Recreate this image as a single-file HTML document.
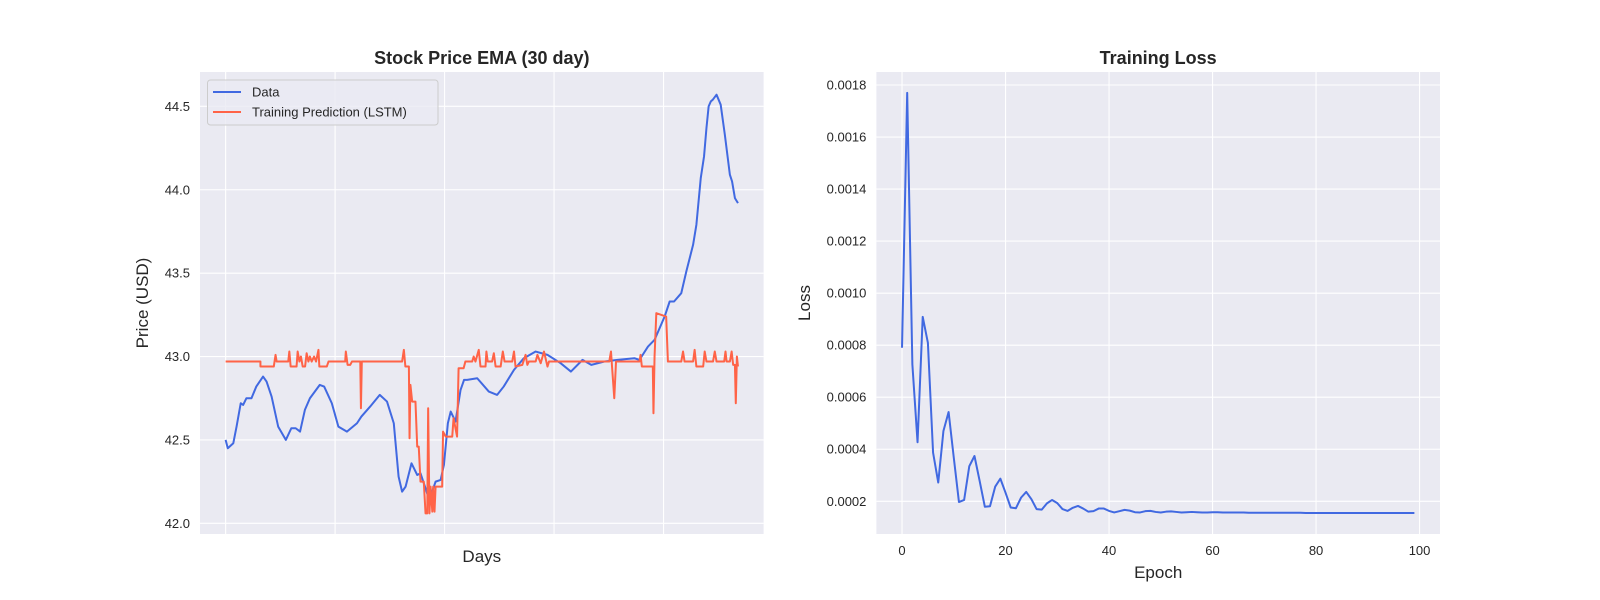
<!DOCTYPE html>
<html><head><meta charset="utf-8"><style>
html,body{margin:0;padding:0;background:#fff;}
svg{display:block;font-family:"Liberation Sans","DejaVu Sans",sans-serif;}
</style></head><body>
<svg id="fig" width="1600" height="600" viewBox="0 0 1600 600" xmlns="http://www.w3.org/2000/svg">
<g id="left"></g>
<g id="right"></g>
</svg>
<script>
const priceDays=[0,1,3.5,5,6.9,8,9.5,11.8,14,17.1,18.7,21,24,27.5,30,32,34,36.2,38.5,43,45,48.5,51.5,55.4,60,62,66,70.4,73.7,76.8,79,80.6,82.2,84.9,87.5,89,91.3,93,95.9,98.2,99.7,101.5,102.8,105,107.3,108.9,110.3,114.9,120.2,124,127,131.7,136.2,141.6,147,153,157.7,163,167,173,179,186.7,189,192.9,195.9,200.5,202.8,204.8,208.1,210.4,213.5,215,217,218.5,219.6,220.6,221.6,222.5,224.2,226.1,228,230.3,231.3,232.6,234];
const priceVals=[42.50,42.45,42.48,42.58,42.72,42.71,42.75,42.75,42.82,42.88,42.85,42.76,42.58,42.50,42.57,42.57,42.55,42.68,42.75,42.83,42.82,42.72,42.58,42.55,42.60,42.64,42.70,42.77,42.73,42.60,42.28,42.19,42.22,42.36,42.29,42.30,42.21,42.14,42.25,42.26,42.35,42.60,42.67,42.61,42.80,42.86,42.86,42.87,42.79,42.77,42.82,42.92,42.99,43.03,43.01,42.96,42.91,42.98,42.95,42.97,42.98,42.99,42.98,43.06,43.10,43.24,43.33,43.33,43.38,43.51,43.67,43.79,44.07,44.20,44.37,44.50,44.53,44.54,44.57,44.51,44.33,44.09,44.05,43.95,43.92];
const predDays=[0,13.3,15.9,15.9,22,22.8,23.3,28.6,29.1,29.7,32.4,32.9,33.7,34.4,35.2,36.3,37.0,37.8,38.5,39.3,40.4,41.3,42.4,42.8,46.2,47.0,54.6,54.9,55.7,56.9,57.7,61.5,61.8,62.2,80.6,81.4,82.1,83.7,84.0,84.4,85.2,86.7,87.5,88.2,89.0,90.5,91.3,92.1,92.5,93.1,93.6,94.4,94.8,95.4,95.9,98.9,99.3,100.5,103.5,104.1,105.7,106.4,108.7,109.5,112.6,113.3,114.1,115.6,116.4,118.7,119.1,119.7,121.7,122.5,123.3,125.6,126.6,127.4,130.9,131.7,132.4,135.5,137.0,137.8,138.5,141.6,142.4,143.9,145.4,147.0,147.7,175.2,176.0,177.5,178.3,189.0,189.5,190.1,195.1,195.4,195.9,196.7,201.2,202.0,208.1,208.9,209.6,213.5,214.2,215.0,218.1,218.8,219.6,222.6,223.4,224.2,227.7,228.3,228.8,230.3,231.1,231.8,232.6,233.0,233.5,234.0];
const predVals=[42.97,42.97,42.97,42.94,42.94,43.01,42.97,42.97,43.03,42.94,42.94,43.03,42.97,43.0,42.94,42.94,43.02,42.97,43.0,42.97,43.0,42.97,43.04,42.94,42.94,42.97,42.97,43.03,42.95,42.95,42.97,42.97,42.69,42.97,42.97,43.04,42.94,42.94,42.51,42.83,42.73,42.73,42.46,42.46,42.25,42.25,42.06,42.06,42.69,42.06,42.22,42.07,42.22,42.07,42.22,42.22,42.55,42.52,42.52,42.63,42.52,42.93,42.93,42.97,42.97,43.0,42.97,43.04,42.94,42.94,43.03,42.97,42.97,43.02,42.94,42.94,43.03,42.97,42.97,43.03,42.94,42.95,43.01,42.95,42.97,42.97,43.01,42.96,43.03,42.94,42.97,42.97,43.03,42.75,42.97,42.97,43.01,42.94,42.94,42.66,43.00,43.26,43.24,42.97,42.97,43.03,42.97,42.97,43.04,42.94,42.94,43.03,42.97,42.97,43.03,42.97,42.97,43.03,42.97,42.97,43.03,42.95,42.95,42.72,43.00,42.94];
const priceTicks=[42.0,42.5,43.0,43.5,44.0,44.5];
const priceTickLabels=["42.0","42.5","43.0","43.5","44.0","44.5"];
const dayGrid=[0,50,100,150,200];
const lossVals=[0.00079,0.00177,0.000726,0.000427,0.000909,0.000809,0.000387,0.000272,0.00047,0.000543,0.000368,0.000197,0.000205,0.000335,0.000374,0.000278,0.000179,0.000181,0.000256,0.000287,0.000233,0.000176,0.000173,0.000214,0.000236,0.000208,0.00017,0.000168,0.000192,0.000205,0.000193,0.00017,0.000163,0.000175,0.000182,0.000172,0.00016,0.000162,0.000172,0.000172,0.000163,0.000157,0.000162,0.000167,0.000164,0.000158,0.000157,0.000162,0.000163,0.000159,0.000157,0.00016,0.000161,0.000159,0.000157,0.000158,0.000159,0.000158,0.000157,0.000157,0.000158,0.000158,0.000157,0.000157,0.000157,0.000157,0.000157,0.000156,0.000156,0.000156,0.000156,0.000156,0.000156,0.000156,0.000156,0.000156,0.000156,0.000156,0.000155,0.000155,0.000155,0.000155,0.000155,0.000155,0.000155,0.000155,0.000155,0.000155,0.000155,0.000155,0.000155,0.000155,0.000155,0.000155,0.000155,0.000155,0.000155,0.000155,0.000155,0.000155];
const lossTicks=[0.0002,0.0004,0.0006,0.0008,0.0010,0.0012,0.0014,0.0016,0.0018];
const lossTickLabels=["0.0002","0.0004","0.0006","0.0008","0.0010","0.0012","0.0014","0.0016","0.0018"];
const epochTicks=[0,20,40,60,80,100];
const epochTickLabels=["0","20","40","60","80","100"];

const NS="http://www.w3.org/2000/svg";
function mk(parent,tag,attrs,text){const e=document.createElementNS(NS,tag);for(const k in attrs)e.setAttribute(k,attrs[k]);if(text!==undefined)e.textContent=text;parent.appendChild(e);return e;}
function linmap(d0,d1,r0,r1){return v=>r0+(v-d0)/(d1-d0)*(r1-r0);}

// ---------- LEFT ----------
const L=document.getElementById('left');
const lx0=200,lx1=763.6,ly0=72,ly1=534;
const pxMin=0,pxMax=234,pad=(pxMax-pxMin)*0.05;
const X1=linmap(pxMin-pad,pxMax+pad,lx0,lx1);
const Y1=linmap(41.936,44.706,ly1,ly0);
let bg=mk(L,'rect',{x:lx0,y:ly0,width:lx1-lx0,height:ly1-ly0,fill:'#eaeaf2'});


priceTicks.forEach((t,i)=>{
  const y=Y1(t);
  let g=mk(L,'line',{x1:lx0,x2:lx1,y1:y,y2:y,stroke:'#fff','stroke-width':1.1});
  
  
  let tl=mk(L,'text',{x:lx0-10,y:y+4.5,'text-anchor':'end','font-size':13,fill:'#262626'},priceTickLabels[i]);
  
  
});
dayGrid.forEach(d=>{
  const x=X1(d);
  let g=mk(L,'line',{x1:x,x2:x,y1:ly0,y2:ly1,stroke:'#fff','stroke-width':1.1});
  
  
});
let pl=mk(L,'polyline',{points:priceDays.map((d,i)=>X1(d)+','+Y1(priceVals[i])).join(' '),fill:'none',stroke:'#4169e1','stroke-width':2,'stroke-linejoin':'round'});


let rl=mk(L,'polyline',{points:predDays.map((d,i)=>X1(d)+','+Y1(predVals[i])).join(' '),fill:'none',stroke:'#ff6347','stroke-width':2,'stroke-linejoin':'round'});


let t1=mk(L,'text',{x:(lx0+lx1)/2,y:64,'text-anchor':'middle','font-size':18,'font-weight':'bold',fill:'#262626'},'Stock Price EMA (30 day)');


let xl1=mk(L,'text',{x:(lx0+lx1)/2,y:562,'text-anchor':'middle','font-size':17,fill:'#262626'},'Days');


let yl1=mk(L,'text',{x:0,y:0,transform:'translate(148,'+((ly0+ly1)/2)+') rotate(-90)','text-anchor':'middle','font-size':17,fill:'#262626'},'Price (USD)');


// legend
const lg=mk(L,'g',{});


mk(lg,'rect',{x:207.5,y:80,width:230.5,height:45,rx:3,fill:'#eaeaf2','fill-opacity':0.8,stroke:'#cccccc'});
const e1=mk(lg,'g',{});


mk(e1,'line',{x1:213,x2:241,y1:92,y2:92,stroke:'#4169e1','stroke-width':2});
mk(e1,'text',{x:252,y:96.5,'font-size':13,fill:'#262626'},'Data');
const e2=mk(lg,'g',{});


mk(e2,'line',{x1:213,x2:241,y1:112,y2:112,stroke:'#ff6347','stroke-width':2});
mk(e2,'text',{x:252,y:116.5,'font-size':13,fill:'#262626'},'Training Prediction (LSTM)');

// ---------- RIGHT ----------
const R=document.getElementById('right');
const rx0=876.4,rx1=1440,ry0=72,ry1=534;
const X2=linmap(-4.95,103.95,rx0,rx1);
const Y2=linmap(0.0000742,0.00185,ry1,ry0);
let bg2=mk(R,'rect',{x:rx0,y:ry0,width:rx1-rx0,height:ry1-ry0,fill:'#eaeaf2'});


lossTicks.forEach((t,i)=>{
  const y=Y2(t);
  let g=mk(R,'line',{x1:rx0,x2:rx1,y1:y,y2:y,stroke:'#fff','stroke-width':1.1});
  
  
  let tl=mk(R,'text',{x:rx0-10,y:y+4.5,'text-anchor':'end','font-size':13,fill:'#262626'},lossTickLabels[i]);
  
  
});
epochTicks.forEach((t,i)=>{
  const x=X2(t);
  let g=mk(R,'line',{x1:x,x2:x,y1:ry0,y2:ry1,stroke:'#fff','stroke-width':1.1});
  
  
  let tl=mk(R,'text',{x:x,y:555,'text-anchor':'middle','font-size':13,fill:'#262626'},epochTickLabels[i]);
  
  
});
let ll=mk(R,'polyline',{points:lossVals.map((v,i)=>X2(i)+','+Y2(v)).join(' '),fill:'none',stroke:'#4169e1','stroke-width':2,'stroke-linejoin':'round'});


let t2=mk(R,'text',{x:(rx0+rx1)/2,y:64,'text-anchor':'middle','font-size':18,'font-weight':'bold',fill:'#262626'},'Training Loss');


let xl2=mk(R,'text',{x:(rx0+rx1)/2,y:578,'text-anchor':'middle','font-size':17,fill:'#262626'},'Epoch');


let yl2=mk(R,'text',{x:0,y:0,transform:'translate(810,'+((ry0+ry1)/2)+') rotate(-90)','text-anchor':'middle','font-size':17,fill:'#262626'},'Loss');


</script>
</body></html>
